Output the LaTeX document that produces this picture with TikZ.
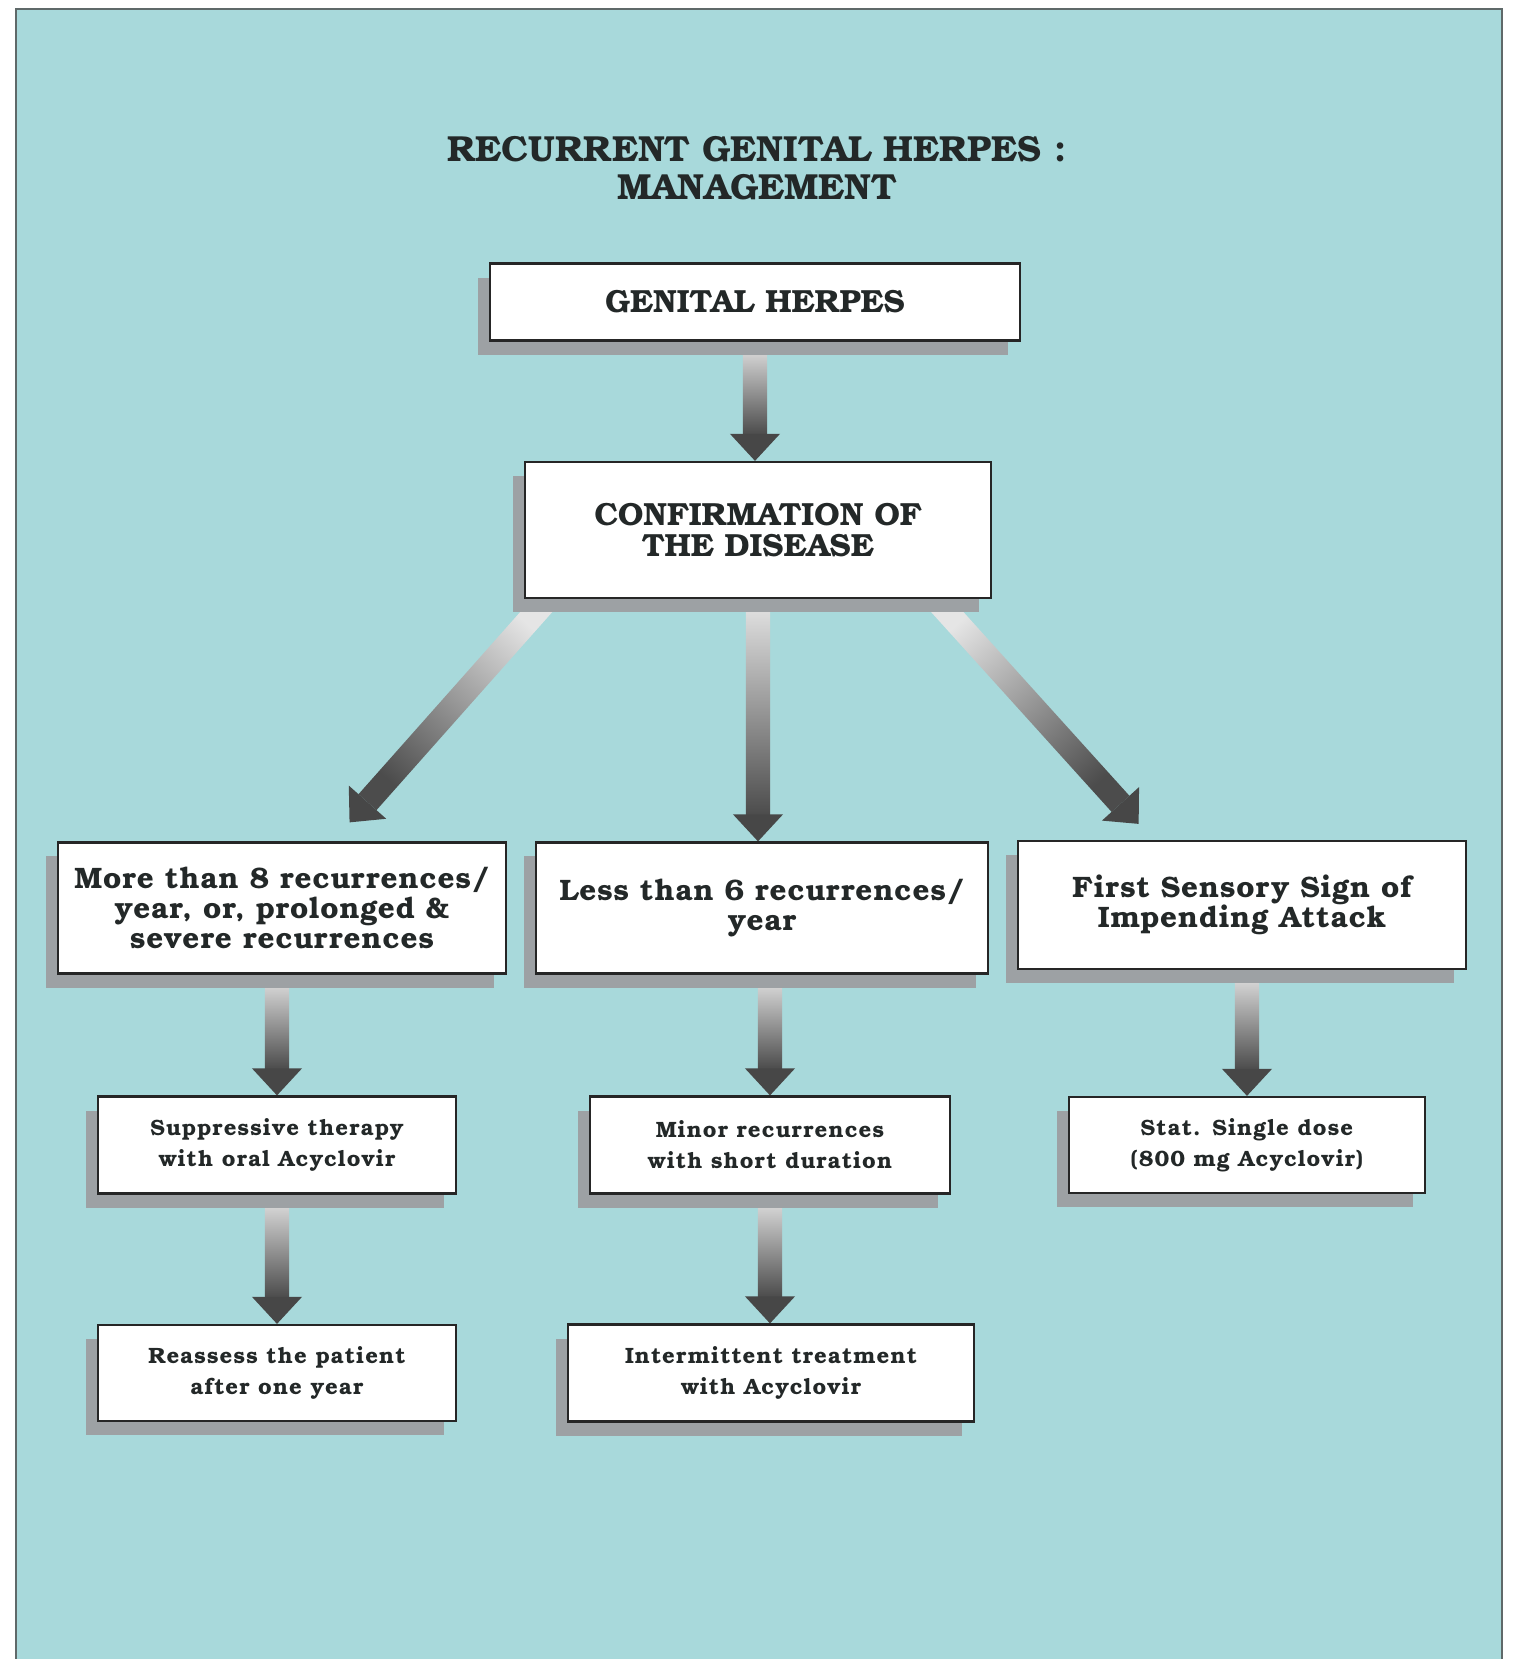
\documentclass[tikz,border=0pt]{standalone}
\usepackage{fontspec}
\setmainfont{TeX Gyre Bonum}
\usetikzlibrary{calc, shadows}
\pgfdeclarelayer{back}
\pgfdeclarelayer{arrows}
\pgfsetlayers{back,arrows,main}
\definecolor{colorSea}{RGB}{168,217,219}
\definecolor{colorShadow}{RGB}{157,161,164}
\definecolor{colorFrame}{RGB}{95,105,105}
\definecolor{colorInk}{RGB}{35,40,40}
\colorlet{colorShaftTop}{gray!20}
\colorlet{colorShaftBot}{black!70}
\colorlet{colorHead}{black!72}
\def\shafthalf{0.12cm}
\def\headhalf{0.25cm}
\def\headlen{0.27cm}
% fat grey arrow between two points, #1 = shading angle
\newcommand{\fatarrow}[3][0]{%
  \begin{pgfonlayer}{arrows}
  \coordinate (fa-base) at ($(#3)!\headlen!(#2)$);
  \shade[top color=colorShaftTop, bottom color=colorShaftBot, shading angle=#1]
    ($(#2)!\shafthalf!90:(#3)$) -- ($(fa-base)!\shafthalf!90:(#3)$)
    -- ($(fa-base)!\shafthalf!-90:(#3)$) -- ($(#2)!\shafthalf!-90:(#3)$) -- cycle;
  \fill[colorHead] ($(fa-base)!\headhalf!90:(#3)$) -- (#3)
    -- ($(fa-base)!\headhalf!-90:(#3)$) -- cycle;
  \end{pgfonlayer}}
\tikzset{
  panel/.style={fill=colorSea, draw=colorFrame, line width=0.025cm},
  titlebox/.style={align=center, text=colorInk, inner sep=0pt,
    font=\bfseries\fontsize{10.3}{10.8}\selectfont},
  box/.style={draw=black!85, line width=0.022cm, fill=white, align=center,
    inner sep=0pt, text=colorInk,
    drop shadow={shadow xshift=-0.12cm, shadow yshift=-0.14cm,
      fill=colorShadow, opacity=1}},
  bigbox/.style={box, font=\bfseries\fontsize{9.1}{9}\selectfont},
  midbox/.style={box, font=\bfseries\fontsize{8.4}{8.6}\selectfont\addfontfeatures{LetterSpace=3}},
  smallbox/.style={box, font=\bfseries\fontsize{6.3}{8.8}\selectfont\addfontfeatures{LetterSpace=5}}
}
\begin{document}
\begin{tikzpicture}[x=0.01cm, y=-0.01cm]
\useasboundingbox (0,0) rectangle (1515,1659);
\begin{pgfonlayer}{back}
\fill[white] (0,0) rectangle (1515,1659);
\draw[panel] (16,9) rectangle (1502,1665);
\end{pgfonlayer}

\node[titlebox] (title) at (757,168) {RECURRENT GENITAL HERPES :\\MANAGEMENT};

\node[bigbox, minimum width=5.30cm, minimum height=0.77cm] (gh) at (755,302) {GENITAL HERPES};
\node[bigbox, minimum width=4.65cm, minimum height=1.36cm] (conf) at (758,530) {CONFIRMATION OF\\THE DISEASE};

\node[midbox, minimum width=4.48cm, minimum height=1.31cm] (more) at (282,908) {More than 8 recurrences/\\year, or, prolonged \&\\severe recurrences};
\node[midbox, minimum width=4.51cm, minimum height=1.31cm] (less) at (762,908) {Less than 6 recurrences/\\year};
\node[midbox, minimum width=4.47cm, minimum height=1.28cm] (sign) at (1242,905) {First Sensory Sign of\\Impending Attack};

\node[smallbox, minimum width=3.57cm, minimum height=0.97cm] (supp) at (277,1145) {Suppressive therapy\\with oral Acyclovir};
\node[smallbox, minimum width=3.60cm, minimum height=0.97cm] (minor) at (770,1145) {Minor recurrences\\with short duration};
\node[smallbox, minimum width=3.56cm, minimum height=0.96cm] (stat) at (1247,1145) {Stat. Single dose\\(800 mg Acyclovir)};

\node[smallbox, minimum width=3.57cm, minimum height=0.96cm] (reass) at (277,1373) {Reassess the patient\\after one year};
\node[smallbox, minimum width=4.05cm, minimum height=0.97cm] (inter) at (771,1373) {Intermittent treatment\\with Acyclovir};

% branch ends
\coordinate (confL) at ($(conf.south west)!0.05!(conf.south east)$);
\coordinate (confR) at ($(conf.south west)!0.88!(conf.south east)$);
\coordinate (moreT) at ($(more.north west)!0.65!(more.north east)+(0,-19)$);
\coordinate (signT) at ($(sign.north west)!0.27!(sign.north east)+(0,-16)$);

\fatarrow{gh.south}{gh.south |- conf.north}
\fatarrow[-42]{confL}{moreT}
\fatarrow{conf.south}{conf.south |- less.north}
\fatarrow[42]{confR}{signT}
\fatarrow{supp.north |- more.south}{supp.north}
\fatarrow{minor.north |- less.south}{minor.north}
\fatarrow{stat.north |- sign.south}{stat.north}
\fatarrow{supp.south}{reass.north}
\fatarrow{minor.south}{minor.south |- inter.north}
\end{tikzpicture}
\end{document}
